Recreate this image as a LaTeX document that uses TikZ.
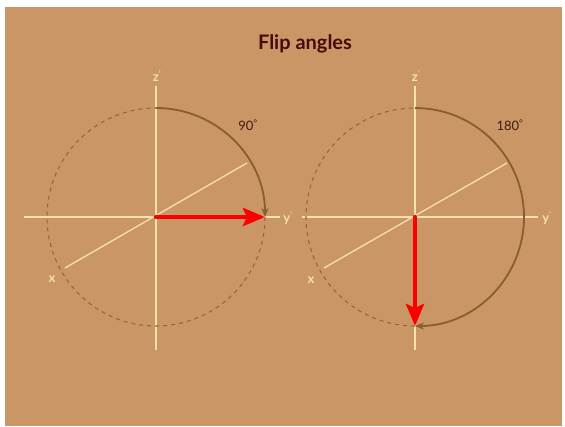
\documentclass[tikz,border=0pt]{standalone}
\usepackage{fontspec}
\setmainfont{Lato}
\usetikzlibrary{arrows.meta}
\definecolor{bg}{RGB}{203,150,102}
\definecolor{cream}{RGB}{246,224,172}
\definecolor{dashc}{RGB}{150,102,62}
\definecolor{arcc}{RGB}{138,92,50}
\definecolor{titlec}{RGB}{70,10,10}
\definecolor{degc}{RGB}{62,28,18}
\definecolor{redc}{RGB}{250,0,0}
\tikzset{
  axisline/.style={draw=cream, line width=1.3pt},
  axlabel/.style={text=cream, font=\bfseries\fontsize{13}{14}\selectfont, inner sep=1pt},
  dashcircle/.style={draw=dashc, line width=1.1pt, dash pattern=on 4pt off 4pt},
  fliparc/.style={draw=arcc, line width=1.8pt, -{Stealth[length=9pt,width=7pt]}},
  deglabel/.style={text=degc, font=\fontsize{13}{14}\selectfont, inner sep=1pt},
  redarrow/.style={draw=redc, line width=4.5pt, line cap=round, -{Stealth[length=22pt,width=18pt,inset=4pt]}},
  titlestyle/.style={text=titlec, font=\bfseries\fontsize{20}{22}\selectfont}
}
\begin{document}
\begin{tikzpicture}[x=1pt,y=-1pt]
\useasboundingbox (0,0) rectangle (565,426);
\fill[white] (0,0) rectangle (565,426);
\fill[bg] (5,7) rectangle (562,426);

\node[titlestyle] (title) at (305,44) {Flip angles};

% ---------- left diagram ----------
\coordinate (cL) at (156,217);
\coordinate (hL1) at (24,217);
\coordinate (hL2) at (280,217);
\coordinate (vL1) at (156,86);
\coordinate (vL2) at (156,350);
\coordinate (xL1) at (65,268);
\coordinate (xL2) at (247,163);
\coordinate (topL) at (156,108);
\coordinate (rightL) at (265,217);

\draw[axisline] (hL1) -- (hL2);
\draw[axisline] (vL1) -- (vL2);
\draw[axisline] (xL1) -- (xL2);
\draw[dashcircle] (rightL) arc[start angle=0, end angle=270, radius=109];
\draw[fliparc] (topL) arc[start angle=-90, end angle=0, radius=109];
\draw[redarrow] (cL) -- (rightL);

\node[axlabel] (zL) at (157,76) {z\textsuperscript{\normalfont'}};
\node[axlabel] (yL) at (288,218) {y\textsuperscript{\normalfont'}};
\node[axlabel] (xLl) at (52,279) {x};
\node[deglabel] (dL) at (248,125) {90\textsuperscript{°}};

% ---------- right diagram ----------
\coordinate (cR) at (415,217);
\coordinate (hR1) at (302,217);
\coordinate (hR2) at (538,217);
\coordinate (vR1) at (415,86);
\coordinate (vR2) at (415,350);
\coordinate (xR1) at (324,268);
\coordinate (xR2) at (507,163);
\coordinate (topR) at (415,108);
\coordinate (bottomR) at (415,326);

\draw[axisline] (hR1) -- (hR2);
\draw[axisline] (vR1) -- (vR2);
\draw[axisline] (xR1) -- (xR2);
\draw[dashcircle] (bottomR) arc[start angle=90, end angle=270, radius=109];
\draw[fliparc] (topR) arc[start angle=-90, end angle=90, radius=109];
\draw[redarrow] (cR) -- (bottomR);

\node[axlabel] (zR) at (416,76) {z\textsuperscript{\normalfont'}};
\node[axlabel] (yR) at (547,218) {y\textsuperscript{\normalfont'}};
\node[axlabel] (xRl) at (311,280) {x};
\node[deglabel] (dR) at (510,125) {180\textsuperscript{°}};
\end{tikzpicture}
\end{document}
